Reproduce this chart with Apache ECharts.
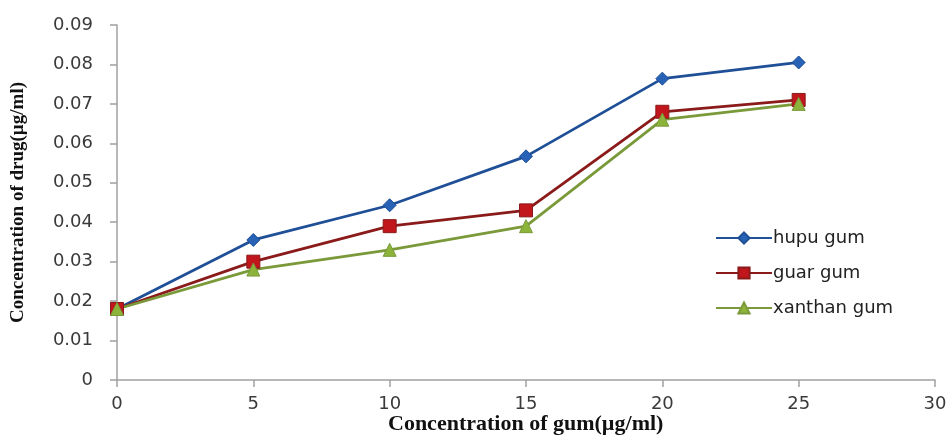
<!DOCTYPE html>
<html><head><meta charset="utf-8">
<script src="https://cdn.jsdelivr.net/npm/echarts@6/dist/echarts.min.js"></script>
<style>html,body{margin:0;padding:0;background:#fff}#c{width:950px;height:435px}</style>
</head><body><div id="c"></div>
<script>
const xValues = [0, 5, 10, 15, 20, 25];
const hupuGum = [0.018, 0.0355, 0.0443, 0.0567, 0.0764, 0.0805];
const guarGum = [0.018, 0.030, 0.039, 0.043, 0.068, 0.071];
const xanthanGum = [0.018, 0.028, 0.033, 0.039, 0.066, 0.070];
const seriesNames = ['hupu gum', 'guar gum', 'xanthan gum'];
const xTitle = 'Concentration of gum(µg/ml)';
const yTitle = 'Concentration of drug(µg/ml)';

const pairs = arr => xValues.map((x, i) => [x, arr[i]]);
const chart = echarts.init(document.getElementById('c'));
const tickFont = { fontFamily: 'DejaVu Sans', fontSize: 18, color: '#3a3a3a' };
const axisLineStyle = { color: '#a0a0a0', width: 1.5 };
chart.setOption({
  animation: false,
  backgroundColor: '#fff',
  grid: { left: 117, right: 15, top: 25, bottom: 55, outerBoundsMode: 'none', containLabel: false },
  graphic: [{
    type: 'text', left: 388, top: 413,
    style: { text: xTitle, fontFamily: 'Liberation Serif', fontWeight: 'bold', fontSize: 22, fill: '#111' }
  }],
  legend: {
    orient: 'vertical', left: 710, top: 224,
    itemWidth: 56, itemHeight: 14, itemGap: 17,
    textStyle: { fontFamily: 'DejaVu Sans', fontSize: 18, color: '#222', padding: [0,0,0,-4] },
    data: seriesNames
  },
  xAxis: {
    type: 'value', min: 0, max: 30, interval: 5,
    axisLine: { lineStyle: axisLineStyle },
    axisTick: { show: true, length: 7, lineStyle: axisLineStyle },
    axisLabel: Object.assign({ margin: 15 }, tickFont),
    splitLine: { show: false }
  },
  yAxis: {
    type: 'value', min: 0, max: 0.09, interval: 0.01,
    name: yTitle, nameLocation: 'middle', nameGap: 89,
    nameTextStyle: { fontFamily: 'Liberation Serif', fontWeight: 'bold', fontSize: 19, color: '#111' },
    axisLine: { show: true, lineStyle: axisLineStyle },
    axisTick: { show: true, length: 7, lineStyle: axisLineStyle },
    axisLabel: Object.assign({ margin: 24, formatter: v => (Math.round(v*100)/100).toString() }, tickFont),
    splitLine: { show: false }
  },
  series: [
    { name: seriesNames[0], type: 'line', data: pairs(hupuGum), symbol: 'diamond', symbolSize: 13,
      lineStyle: { color: '#1f4f96', width: 2.8 }, itemStyle: { color: '#2862b6', borderColor: '#1f4f96', borderWidth: 1 } },
    { name: seriesNames[1], type: 'line', data: pairs(guarGum), symbol: 'rect', symbolSize: 13,
      lineStyle: { color: '#8b1a1a', width: 2.8 }, itemStyle: { color: '#c0161c', borderColor: '#8b1a1a', borderWidth: 1 } },
    { name: seriesNames[2], type: 'line', data: pairs(xanthanGum), symbol: 'triangle', symbolSize: 13,
      lineStyle: { color: '#7a9a3a', width: 2.8 }, itemStyle: { color: '#8db43a', borderColor: '#7a9a3a', borderWidth: 1 } }
  ]
});
</script></body></html>
